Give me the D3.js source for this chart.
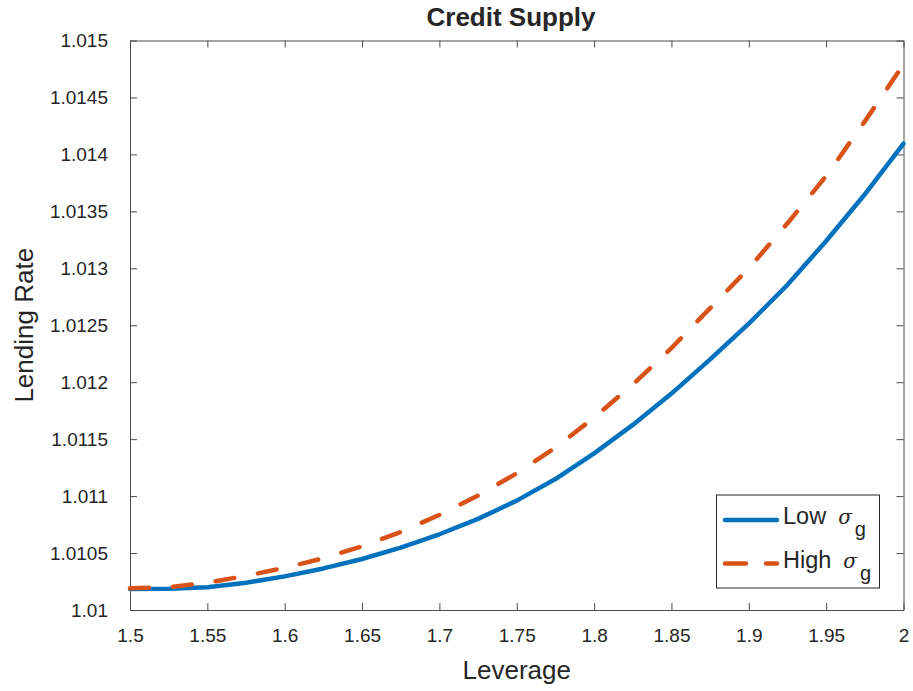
<!DOCTYPE html>
<html>
<head>
<meta charset="utf-8">
<script src="https://cdn.jsdelivr.net/npm/d3@7"></script>
<style>
  body { margin: 0; background: #fff; }
  text { font-family: "Liberation Sans", Arial, sans-serif; fill: #262626; }
</style>
</head>
<body>
<svg id="vis-svg" width="913" height="691"></svg>
<script>
var width  = 913;
var height = 691;
var margin = { top: 40.5, bottom: 81, left: 130, right: 9.5 };

// data
const leverage   = [1.5, 1.525, 1.55, 1.575, 1.6, 1.625, 1.65, 1.675, 1.7, 1.725, 1.75,
                    1.775, 1.8, 1.825, 1.85, 1.875, 1.9, 1.925, 1.95, 1.975, 2.0];
const lowSigma   = [1.010184, 1.010186, 1.010200, 1.010240, 1.010295, 1.010365, 1.010448,
                    1.010548, 1.010665, 1.010800, 1.010960, 1.011150, 1.011375, 1.011625,
                    1.011900, 1.012200, 1.012515, 1.012855, 1.013240, 1.013650, 1.014094];
const highSigma  = [1.010190, 1.010200, 1.010240, 1.010300, 1.010370, 1.010455, 1.010560,
                    1.010685, 1.010835, 1.011005, 1.011200, 1.011425, 1.011690, 1.011980,
                    1.012300, 1.012650, 1.013000, 1.013395, 1.013810, 1.014290, 1.014790];
const xTicks     = [1.5, 1.55, 1.6, 1.65, 1.7, 1.75, 1.8, 1.85, 1.9, 1.95, 2];
const xTickText  = ["1.5", "1.55", "1.6", "1.65", "1.7", "1.75", "1.8", "1.85", "1.9", "1.95", "2"];
const yTicks     = [1.01, 1.0105, 1.011, 1.0115, 1.012, 1.0125, 1.013, 1.0135, 1.014, 1.0145, 1.015];
const yTickText  = ["1.01", "1.0105", "1.011", "1.0115", "1.012", "1.0125", "1.013", "1.0135", "1.014", "1.0145", "1.015"];
const seriesNames = ["Low", "High"];

const graphHeight = height - margin.top - margin.bottom;
const graphWidth = width - margin.left - margin.right;

const svg = d3.select("#vis-svg");
const graph = svg.append("g").attr("transform", `translate(${margin.left},${margin.top})`);

const x = d3.scaleLinear().domain([1.5, 2]).range([0, graphWidth]);
const y = d3.scaleLinear().domain([1.01, 1.015]).range([graphHeight, 0]);

const axisColor = "#4d4d4d";
const styleAxis = g => {
  g.select(".domain").attr("stroke", axisColor);
  g.selectAll(".tick line").attr("stroke", axisColor);
  g.selectAll(".tick text")
    .attr("font-size", "19px")
    .attr("font-family", "Liberation Sans, Arial, sans-serif")
    .attr("fill", "#262626");
};

// bottom / top
graph.append("g").attr("transform", `translate(0,${graphHeight})`)
  .call(d3.axisBottom(x).tickValues(xTicks).tickFormat((d, i) => xTickText[i])
    .tickSizeInner(-7).tickSizeOuter(0).tickPadding(19))
  .call(styleAxis);
graph.append("g")
  .call(d3.axisTop(x).tickValues(xTicks).tickFormat("").tickSizeInner(-7).tickSizeOuter(0))
  .call(styleAxis);
// left / right
graph.append("g")
  .call(d3.axisLeft(y).tickValues(yTicks).tickFormat((d, i) => yTickText[i])
    .tickSizeInner(-7).tickSizeOuter(0).tickPadding(22))
  .call(styleAxis);
graph.append("g").attr("transform", `translate(${graphWidth},0)`)
  .call(d3.axisRight(y).tickValues(yTicks).tickFormat("").tickSizeInner(-7).tickSizeOuter(0))
  .call(styleAxis);

// lines
const series = [
  { name: seriesNames[0], values: lowSigma,  color: "#0072BD", dash: null },
  { name: seriesNames[1], values: highSigma, color: "#D95319", dash: "19,24" }
];

const line = d3.line()
  .x((d, i) => x(leverage[i]))
  .y(d => y(d));

graph.selectAll("path.series").data(series).enter()
  .append("path")
  .attr("class", "series")
  .attr("fill", "none")
  .attr("stroke", d => d.color)
  .attr("stroke-width", 4.5)
  .attr("stroke-linecap", "round")
  .attr("stroke-linejoin", "round")
  .attr("stroke-dasharray", d => d.dash)
  .attr("d", d => line(d.values));

// titles
svg.append("text")
  .attr("x", 511).attr("y", 26)
  .attr("text-anchor", "middle")
  .attr("font-size", "26px").attr("font-weight", "bold")
  .attr("fill", "#000")
  .text("Credit Supply");

svg.append("text")
  .attr("x", margin.left + graphWidth / 2).attr("y", 679)
  .attr("text-anchor", "middle")
  .attr("font-size", "26px")
  .text("Leverage");

svg.append("text")
  .attr("transform", `translate(33,${margin.top + graphHeight / 2}) rotate(-90)`)
  .attr("text-anchor", "middle")
  .attr("font-size", "26px")
  .text("Lending Rate");

// legend
const legend = svg.append("g");
legend.append("rect")
  .attr("x", 716.5).attr("y", 495).attr("width", 163).attr("height", 93)
  .attr("fill", "#fff").attr("stroke", "#262626").attr("stroke-width", 1);

const items = legend.selectAll("g.item").data(series).enter()
  .append("g").attr("class", "item")
  .attr("transform", (d, i) => `translate(0,${520 + i * 43.5})`);

items.append("line")
  .attr("x1", 725).attr("x2", 777).attr("y1", 0).attr("y2", 0)
  .attr("stroke", d => d.color)
  .attr("stroke-width", 4.5)
  .attr("stroke-linecap", "round")
  .attr("stroke-dasharray", d => d.dash ? "21,20" : null);

const label = items.append("text")
  .attr("x", 783).attr("y", 4)
  .attr("font-size", "23.5px")
  .attr("fill", "#000");
label.append("tspan").text(d => d.name);
label.append("tspan").attr("dx", 12).attr("font-style", "italic")
  .attr("font-family", "DejaVu Serif, serif").attr("font-size", "20px").text("σ");
label.append("tspan").attr("dx", 3).attr("dy", 12).attr("font-size", "20px").text("g");
</script>
</body>
</html>
